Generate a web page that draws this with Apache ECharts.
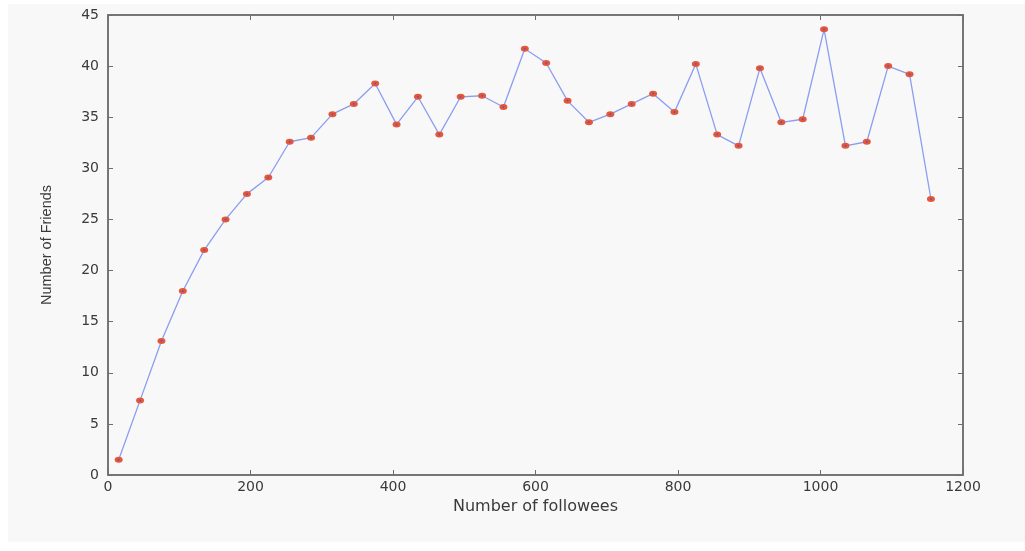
<!DOCTYPE html>
<html>
<head>
<meta charset="utf-8">
<style>
  html, body { margin: 0; padding: 0; background: #ffffff; }
  #chart { width: 1025px; height: 551px; }
</style>
<script src="https://cdn.jsdelivr.net/npm/echarts@6/dist/echarts.min.js"></script>
</head>
<body>
<div id="chart"></div>
<script>
// Number of followees (bin centres)
const followees = [15, 45, 75, 105, 135, 165, 195, 225, 255, 285, 315, 345, 375, 405, 435, 465, 495, 525, 555, 585, 615, 645, 675, 705, 735, 765, 795, 825, 855, 885, 915, 945, 975, 1005, 1035, 1065, 1095, 1125, 1155];
// Number of friends
const friends = [1.5, 7.3, 13.1, 18.0, 22.0, 25.0, 27.5, 29.1, 32.6, 33.0, 35.3, 36.3, 38.3, 34.3, 37.0, 33.3, 37.0, 37.1, 36.0, 41.7, 40.3, 36.6, 34.5, 35.3, 36.3, 37.3, 35.5, 40.2, 33.3, 32.2, 39.8, 34.5, 34.8, 43.6, 32.2, 32.6, 40.0, 39.2, 27.0];
const xTicks = [0, 200, 400, 600, 800, 1000, 1200];
const yTicks = [0, 5, 10, 15, 20, 25, 30, 35, 40, 45];

const points = followees.map((x, i) => [x, friends[i]]);
const wideFont = 'DejaVu Sans, Verdana, sans-serif';
const font = 'Liberation Sans, Arial, sans-serif';
const axisColor = '#6e6e6e';
const textColor = '#3a3a3a';

const tickStyle = { show: true, inside: true, length: 5, lineStyle: { color: axisColor } };
const lineStyle = { show: true, onZero: false, lineStyle: { color: axisColor, width: 1.5 } };

const chart = echarts.init(document.getElementById('chart'), null, { renderer: 'canvas' });
chart.setOption({
  animation: false,
  backgroundColor: '#ffffff',
  graphic: [{
    type: 'rect', z: -10, silent: true,
    shape: { x: 8, y: 4, width: 1017, height: 538 },
    style: { fill: '#f8f8f8' }
  }],
  grid: { left: 108, right: 62, top: 15, bottom: 76, show: true, borderColor: axisColor, borderWidth: 1.5, backgroundColor: 'transparent' },
  xAxis: [{
    type: 'value', min: xTicks[0], max: xTicks[xTicks.length - 1], interval: 200,
    position: 'bottom',
    name: 'Number of followees', nameLocation: 'middle', nameGap: 21,
    nameTextStyle: { fontFamily: wideFont, fontSize: 16, color: textColor },
    axisLine: lineStyle,
    axisTick: tickStyle,
    axisLabel: { fontFamily: wideFont, fontSize: 14, color: textColor, margin: 5, formatter: v => String(v) },
    splitLine: { show: false }
  }, {
    type: 'value', min: xTicks[0], max: xTicks[xTicks.length - 1], interval: 200,
    position: 'top',
    axisLine: lineStyle,
    axisTick: tickStyle,
    axisLabel: { show: false },
    splitLine: { show: false }
  }],
  yAxis: [{
    type: 'value', min: yTicks[0], max: yTicks[yTicks.length - 1], interval: 5,
    position: 'left',
    name: 'Number of Friends', nameLocation: 'middle', nameGap: 54,
    nameTextStyle: { fontFamily: font, fontSize: 14.5, color: textColor },
    axisLine: lineStyle,
    axisTick: tickStyle,
    axisLabel: { fontFamily: wideFont, fontSize: 14, color: textColor, margin: 9 },
    splitLine: { show: false }
  }, {
    type: 'value', min: yTicks[0], max: yTicks[yTicks.length - 1], interval: 5,
    position: 'right',
    axisLine: lineStyle,
    axisTick: tickStyle,
    axisLabel: { show: false },
    splitLine: { show: false }
  }],
  series: [{
    type: 'line',
    data: points,
    xAxisIndex: 0, yAxisIndex: 0,
    lineStyle: { color: '#8a9df0', width: 1.3 },
    symbol: 'circle', symbolSize: [8, 6],
    itemStyle: { color: '#e4573b', borderWidth: 0 },
    z: 2
  }, {
    type: 'scatter',
    data: points,
    xAxisIndex: 0, yAxisIndex: 0,
    symbol: 'circle', symbolSize: 2,
    itemStyle: { color: '#5a4fb8' },
    silent: true,
    z: 3
  }, {
    type: 'line',
    data: [],
    xAxisIndex: 1, yAxisIndex: 1,
    silent: true
  }]
});
</script>
</body>
</html>
